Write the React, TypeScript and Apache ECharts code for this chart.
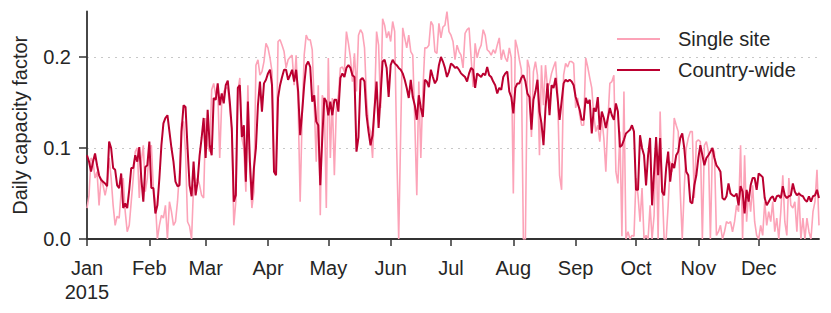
import React, { useEffect, useRef } from "react";
import * as echarts from "echarts";

const YEAR = 2015;
const MONTH_LABELS = ["Jan", "Feb", "Mar", "Apr", "May", "Jun", "Jul", "Aug", "Sep", "Oct", "Nov", "Dec"];
const MONTH_DAYS = [31, 28, 31, 30, 31, 30, 31, 31, 30, 31, 30, 31];
const Y_TICKS = [0, 0.1, 0.2];

// Country-wide daily capacity factor, per month
const COUNTRY_JAN = [0.092,0.085,0.074,0.085,0.094,0.081,0.070,0.065,0.063,0.061,0.058,0.107,0.100,0.078,0.076,0.059,0.056,0.072,0.034,0.039,0.034,0.054,0.078,0.078,0.092,0.085,0.101,0.067,0.041,0.079,0.081];
const COUNTRY_FEB = [0.107,0.056,0.056,0.028,0.037,0.067,0.103,0.127,0.133,0.136,0.118,0.100,0.085,0.063,0.058,0.059,0.118,0.147,0.145,0.100,0.059,0.047,0.085,0.048,0.063,0.092,0.111,0.133];
const COUNTRY_MAR = [0.089,0.142,0.103,0.092,0.155,0.153,0.171,0.147,0.160,0.149,0.169,0.174,0.151,0.122,0.041,0.048,0.166,0.169,0.112,0.125,0.063,0.151,0.085,0.043,0.078,0.100,0.147,0.173,0.140,0.171,0.175];
const COUNTRY_APR = [0.182,0.186,0.169,0.074,0.070,0.155,0.169,0.178,0.186,0.186,0.175,0.180,0.186,0.173,0.186,0.162,0.114,0.140,0.169,0.191,0.195,0.189,0.151,0.158,0.129,0.125,0.059,0.111,0.155,0.151];
const COUNTRY_MAY = [0.136,0.151,0.136,0.153,0.153,0.140,0.177,0.182,0.178,0.188,0.191,0.188,0.180,0.178,0.096,0.112,0.175,0.177,0.173,0.136,0.118,0.103,0.114,0.144,0.173,0.122,0.158,0.195,0.197,0.188,0.156];
const COUNTRY_JUN = [0.191,0.197,0.193,0.191,0.188,0.186,0.182,0.175,0.166,0.155,0.175,0.156,0.147,0.131,0.158,0.144,0.134,0.175,0.173,0.167,0.186,0.178,0.171,0.175,0.191,0.200,0.195,0.188,0.178,0.184];
const COUNTRY_JUL = [0.193,0.191,0.188,0.189,0.186,0.182,0.180,0.178,0.173,0.182,0.188,0.186,0.166,0.182,0.180,0.178,0.182,0.180,0.189,0.180,0.178,0.173,0.169,0.160,0.166,0.164,0.178,0.182,0.184,0.162,0.156];
const COUNTRY_AUG = [0.138,0.166,0.171,0.171,0.177,0.180,0.173,0.160,0.156,0.120,0.153,0.162,0.175,0.140,0.127,0.103,0.144,0.171,0.136,0.169,0.166,0.177,0.155,0.131,0.151,0.171,0.175,0.173,0.175,0.173,0.169];
const COUNTRY_SEP = [0.156,0.149,0.142,0.131,0.131,0.155,0.149,0.153,0.116,0.144,0.140,0.156,0.120,0.140,0.133,0.122,0.133,0.144,0.136,0.131,0.149,0.140,0.101,0.103,0.109,0.116,0.118,0.120,0.125,0.118];
const COUNTRY_OCT = [0.054,0.054,0.114,0.100,0.092,0.059,0.092,0.111,0.037,0.074,0.112,0.070,0.111,0.052,0.048,0.078,0.096,0.063,0.083,0.078,0.092,0.096,0.111,0.116,0.100,0.074,0.070,0.041,0.039,0.059,0.070];
const COUNTRY_NOV = [0.089,0.103,0.092,0.081,0.089,0.092,0.096,0.100,0.089,0.081,0.078,0.074,0.045,0.043,0.047,0.061,0.050,0.048,0.047,0.050,0.037,0.058,0.052,0.028,0.054,0.041,0.059,0.067,0.067,0.054];
const COUNTRY_DEC = [0.072,0.070,0.068,0.045,0.037,0.041,0.045,0.047,0.041,0.047,0.048,0.045,0.058,0.048,0.045,0.047,0.048,0.061,0.052,0.048,0.050,0.048,0.047,0.043,0.041,0.047,0.041,0.047,0.048,0.054,0.045];

// Single site daily capacity factor, per month
const SINGLE_JAN = [0.034,0.048,0.089,0.085,0.067,0.074,0.037,0.067,0.059,0.048,0.059,0.089,0.067,0.037,0.015,0.025,0.023,0.052,0.067,0.030,0.008,0.015,0.041,0.067,0.096,0.100,0.045,0.085,0.103,0.052,0.067];
const SINGLE_FEB = [0.100,0.103,0.056,0.041,0.0,0.015,0.026,0.023,0.037,0.0,0.041,0.030,0.015,0.019,0.041,0.074,0.127,0.129,0.096,0.019,0.014,0.0,0.059,0.061,0.067,0.059,0.048,0.045];
const SINGLE_MAR = [0.133,0.103,0.096,0.164,0.171,0.158,0.166,0.089,0.151,0.162,0.166,0.166,0.144,0.118,0.015,0.041,0.162,0.177,0.111,0.100,0.052,0.169,0.074,0.034,0.052,0.191,0.197,0.180,0.184,0.195,0.215];
const SINGLE_APR = [0.210,0.199,0.184,0.074,0.074,0.217,0.219,0.213,0.206,0.188,0.197,0.200,0.202,0.169,0.202,0.147,0.041,0.136,0.202,0.224,0.219,0.219,0.208,0.147,0.085,0.169,0.026,0.158,0.151,0.034];
const SINGLE_MAY = [0.199,0.089,0.155,0.070,0.144,0.158,0.188,0.189,0.184,0.228,0.215,0.199,0.173,0.204,0.162,0.224,0.230,0.226,0.210,0.155,0.125,0.118,0.089,0.147,0.228,0.213,0.144,0.242,0.235,0.221,0.228];
const SINGLE_JUN = [0.217,0.239,0.228,0.100,0.0,0.118,0.232,0.221,0.210,0.224,0.206,0.202,0.129,0.048,0.173,0.089,0.162,0.210,0.210,0.213,0.239,0.235,0.206,0.204,0.237,0.221,0.233,0.235,0.250,0.228];
const SINGLE_JUL = [0.224,0.217,0.197,0.213,0.206,0.202,0.188,0.226,0.230,0.232,0.199,0.167,0.215,0.199,0.208,0.213,0.230,0.224,0.208,0.206,0.202,0.208,0.204,0.213,0.221,0.197,0.208,0.199,0.195,0.210,0.199];
const SINGLE_AUG = [0.050,0.219,0.210,0.197,0.186,0.0,0.0,0.197,0.188,0.112,0.184,0.195,0.180,0.092,0.191,0.147,0.191,0.166,0.171,0.182,0.189,0.195,0.162,0.070,0.054,0.180,0.193,0.189,0.195,0.195,0.193];
const SINGLE_SEP = [0.144,0.155,0.136,0.125,0.125,0.199,0.189,0.177,0.166,0.136,0.118,0.125,0.107,0.133,0.111,0.074,0.129,0.171,0.173,0.180,0.074,0.061,0.118,0.003,0.162,0.0,0.008,0.0,0.004,0.003];
const SINGLE_OCT = [0.067,0.048,0.019,0.056,0.0,0.004,0.0,0.037,0.0,0.026,0.111,0.0,0.140,0.059,0.0,0.0,0.037,0.085,0.074,0.133,0.125,0.118,0.052,0.0,0.056,0.100,0.111,0.118,0.118,0.045,0.107];
const SINGLE_NOV = [0.109,0.107,0.0,0.103,0.107,0.096,0.0,0.100,0.096,0.004,0.008,0.015,0.0,0.008,0.019,0.017,0.019,0.008,0.019,0.037,0.030,0.103,0.0,0.092,0.019,0.052,0.030,0.059,0.019,0.004];
const SINGLE_DEC = [0.0,0.015,0.004,0.041,0.015,0.030,0.019,0.041,0.008,0.023,0.0,0.030,0.070,0.019,0.004,0.067,0.037,0.034,0.041,0.008,0.052,0.0,0.023,0.0,0.023,0.008,0.0,0.030,0.041,0.076,0.015];

const COUNTRY_WIDE = [
  ...COUNTRY_JAN, ...COUNTRY_FEB, ...COUNTRY_MAR, ...COUNTRY_APR, ...COUNTRY_MAY, ...COUNTRY_JUN,
  ...COUNTRY_JUL, ...COUNTRY_AUG, ...COUNTRY_SEP, ...COUNTRY_OCT, ...COUNTRY_NOV, ...COUNTRY_DEC,
];
const SINGLE_SITE = [
  ...SINGLE_JAN, ...SINGLE_FEB, ...SINGLE_MAR, ...SINGLE_APR, ...SINGLE_MAY, ...SINGLE_JUN,
  ...SINGLE_JUL, ...SINGLE_AUG, ...SINGLE_SEP, ...SINGLE_OCT, ...SINGLE_NOV, ...SINGLE_DEC,
];

const pad = (n: number) => (n < 10 ? "0" + n : "" + n);
const DATES: string[] = [];
MONTH_DAYS.forEach((days, m) => {
  for (let d = 1; d <= days; d++) DATES.push(`${YEAR}-${pad(m + 1)}-${pad(d)}`);
});

const FONT = "'Liberation Sans', Arial, Helvetica, sans-serif";
const TEXT = "#262626";
const AXIS = "#333333";
const PINK = "#fca3b8";
const RED = "#bb0030";

const isMonthStart = (_i: number, v: string) => v.endsWith("-01");

export default function App() {
  const ref = useRef<HTMLDivElement>(null);
  useEffect(() => {
    if (!ref.current) return;
    const chart = echarts.init(ref.current, null, { renderer: "svg" });
    chart.setOption({
      animation: false,
      backgroundColor: "#ffffff",
      textStyle: { fontFamily: FONT },
      grid: { left: 87, right: 12, top: 11.5, bottom: 74, containLabel: false },
      legend: {
        orient: "vertical",
        left: 617,
        top: 27,
        padding: 0,
        icon: "rect",
        itemWidth: 43,
        itemHeight: 2,
        itemGap: 7,
        data: [
          { name: "Single site", itemStyle: { color: PINK } },
          { name: "Country-wide", itemStyle: { color: RED } },
        ],
        textStyle: { color: TEXT, fontSize: 20, fontFamily: FONT, lineHeight: 24, padding: [0, 0, 0, 13] },
      },
      xAxis: {
        type: "category",
        data: DATES,
        boundaryGap: false,
        axisLine: { show: true, lineStyle: { color: AXIS, width: 1.8 } },
        axisTick: { show: true, interval: isMonthStart, length: 7, lineStyle: { color: AXIS, width: 1.5 } },
        axisLabel: {
          interval: isMonthStart,
          color: TEXT,
          fontSize: 20,
          fontFamily: FONT,
          lineHeight: 24,
          margin: 17,
          formatter: (v: string) => {
            const m = parseInt(v.slice(5, 7), 10) - 1;
            return m === 0 ? `${MONTH_LABELS[m]}\n${YEAR}` : MONTH_LABELS[m];
          },
        },
        splitLine: { show: false },
      },
      yAxis: {
        type: "value",
        min: 0,
        max: 0.25,
        interval: 0.1,
        name: "Daily capacity factor",
        nameLocation: "middle",
        nameGap: 57,
        nameTextStyle: { color: TEXT, fontSize: 20, fontFamily: FONT },
        axisLine: { show: true, lineStyle: { color: AXIS, width: 1.8 } },
        axisTick: { show: true, customValues: Y_TICKS, length: 8, lineStyle: { color: AXIS, width: 1.5 } },
        axisLabel: {
          customValues: Y_TICKS,
          color: TEXT,
          fontSize: 20,
          fontFamily: FONT,
          margin: 16,
          formatter: (v: number) => v.toFixed(1),
        },
        splitLine: {
          show: true,
          lineStyle: {
            color: ["#c8c8c8", "#c8c8c8", "#c8c8c8", "rgba(0,0,0,0)"],
            width: 1,
            type: [2, 5],
          },
        },
      },
      series: [
        {
          name: "Single site",
          type: "line",
          data: SINGLE_SITE,
          symbol: "none",
          showSymbol: false,
          lineStyle: { color: PINK, width: 1.6 },
          itemStyle: { color: PINK },
          z: 2,
        },
        {
          name: "Country-wide",
          type: "line",
          data: COUNTRY_WIDE,
          symbol: "none",
          showSymbol: false,
          lineStyle: { color: RED, width: 2 },
          itemStyle: { color: RED },
          z: 3,
        },
      ],
    });
    return () => chart.dispose();
  }, []);
  return (
    <div
      ref={ref}
      style={{ position: "fixed", left: 0, top: 0, width: 831, height: 313, background: "#fff" }}
    />
  );
}
